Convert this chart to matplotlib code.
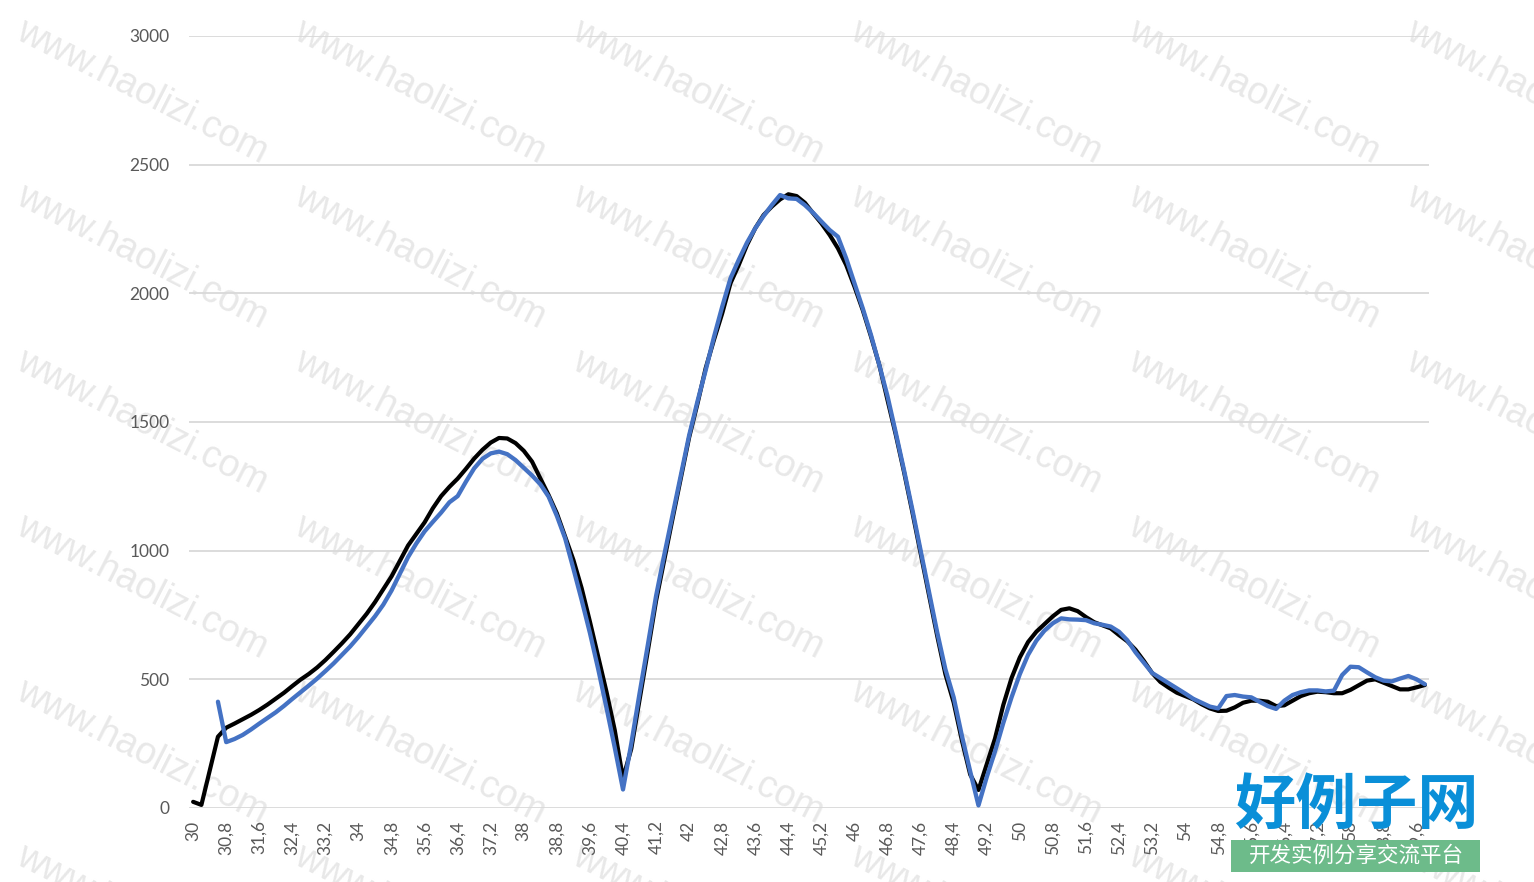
import numpy as np
import matplotlib
matplotlib.use("Agg")
import matplotlib.pyplot as plt
from matplotlib.patches import Rectangle

# categories 30,0 .. 59,8 step 0,2
start = 30.0
step = 0.2
n_points = 150

black = [24, 12, 145, 277, 312, 328, 345, 362, 381, 402,
         425, 448, 474, 499, 521, 546, 575, 607, 640, 675,
         715, 755, 800, 850, 900, 960, 1020, 1065, 1110, 1165,
         1212, 1248, 1280, 1318, 1358, 1392, 1420, 1438, 1436, 1418,
         1388, 1346, 1281, 1216, 1145, 1054, 964, 854, 724, 588,
         452, 303, 115, 230, 420, 610, 805, 965, 1125, 1282,
         1440, 1570, 1709, 1819, 1922, 2039, 2110, 2188, 2253, 2304,
         2337, 2365, 2385, 2378, 2352, 2311, 2272, 2227, 2175, 2110,
         2026, 1935, 1832, 1722, 1585, 1450, 1305, 1150, 990, 830,
         670, 520, 410, 262, 130, 70, 170, 270, 400, 505,
         585, 645, 685, 715, 745, 770, 776, 765, 742, 722,
         710, 698, 672, 648, 615, 572, 525, 490, 468, 448,
         435, 422, 403, 387, 377, 378, 391, 409, 417, 417,
         413, 396, 399, 417, 435, 446, 452, 450, 446, 446,
         459, 477, 495, 500, 487, 474, 461, 461, 469, 478]

blue = [None, None, None, 413, 256, 268, 284, 305, 328, 350,
        372, 397, 424, 450, 476, 503, 532, 562, 595, 628,
        665, 705, 745, 790, 845, 910, 975, 1028, 1075, 1112,
        1148, 1188, 1212, 1268, 1320, 1357, 1378, 1385, 1375, 1352,
        1322, 1292, 1258, 1210, 1135, 1048, 930, 808, 680, 540,
        390, 235, 72, 250, 445, 633, 824, 985, 1140, 1294,
        1448, 1579, 1701, 1830, 1948, 2058, 2130, 2197, 2253, 2300,
        2343, 2382, 2369, 2367, 2343, 2313, 2279, 2246, 2220, 2136,
        2039, 1942, 1838, 1722, 1600, 1458, 1312, 1160, 1001, 843,
        684, 539, 430, 280, 142, 10, 120, 220, 330, 430,
        520, 595, 650, 690, 718, 737, 733, 732, 730, 718,
        712, 705, 685, 652, 605, 565, 525, 505, 485, 465,
        445, 424, 409, 394, 387, 435, 439, 433, 430, 413,
        396, 385, 417, 439, 450, 457, 457, 453, 456, 517,
        549, 547, 527, 508, 495, 492, 503, 513, 500, 481]

y_ticks = [0, 500, 1000, 1500, 2000, 2500, 3000]

categories = [round(start + step * i, 1) for i in range(n_points)]
labels = [("%g" % c).replace(".", ",") for c in categories]

W, H = 1534, 882
fig = plt.figure(figsize=(W / 100, H / 100), dpi=100)

def fx(px):
    return px / W

def fy(py):
    return 1 - py / H

# faint site watermark behind the chart (it runs off the edges, as in the original)
for r in range(6):
    for c in range(6):
        fig.text(fx(142 + 278 * c), fy(92 + 165 * r), "www.haolizi.com",
                 fontsize=27, color="#E8E8E8", rotation=-27,
                 ha="center", va="center", rotation_mode="anchor",
                 family="Liberation Sans", zorder=-5)

ax = fig.add_axes([fx(189), fy(808), (1429 - 189) / W, (808 - 36) / H])
ax.patch.set_alpha(0)

x = np.arange(n_points)
blue_arr = np.array([np.nan if v is None else v for v in blue], dtype=float)

ax.plot(x, black, color="#000000", lw=3.0, solid_joinstyle="round",
        solid_capstyle="round", zorder=3)
ax.plot(x, blue_arr, color="#4472C4", lw=3.1, solid_joinstyle="round",
        solid_capstyle="round", zorder=4)

ax.set_xlim(-0.5, n_points - 0.5)
ax.set_ylim(0, 3000)
ax.set_yticks(y_ticks)
ax.set_yticklabels([str(v) for v in y_ticks])
ax.set_xticks(x[::4])
ax.set_xticklabels(labels[::4], rotation=90)

ax.grid(axis="y", color="#D9D9D9", lw=1.3)
ax.set_axisbelow(True)
for s in ax.spines.values():
    s.set_visible(False)
ax.tick_params(axis="both", length=0, colors="#595959", labelsize=12.5)
ax.tick_params(axis="y", pad=14)
ax.tick_params(axis="x", pad=9)
for t in ax.get_xticklabels() + ax.get_yticklabels():
    t.set_family("Lato")

# logo in the lower right corner
fig.patches.append(Rectangle((fx(1231), fy(872)), 249 / W, 32 / H,
                             transform=fig.transFigure, facecolor="#6DBB8A",
                             edgecolor="none", zorder=10))
fig.text(fx(1356), fy(806), "好例子网", fontsize=44, color="#0A8FD8",
         fontweight="bold", ha="center", va="center",
         family=["Noto Sans CJK SC", "DejaVu Sans"], zorder=11)
fig.text(fx(1356), fy(856), "开发实例分享交流平台", fontsize=15.5, color="white",
         ha="center", va="center",
         family=["Noto Sans CJK SC", "DejaVu Sans"], zorder=11)

fig.savefig("out.png", dpi=100)
